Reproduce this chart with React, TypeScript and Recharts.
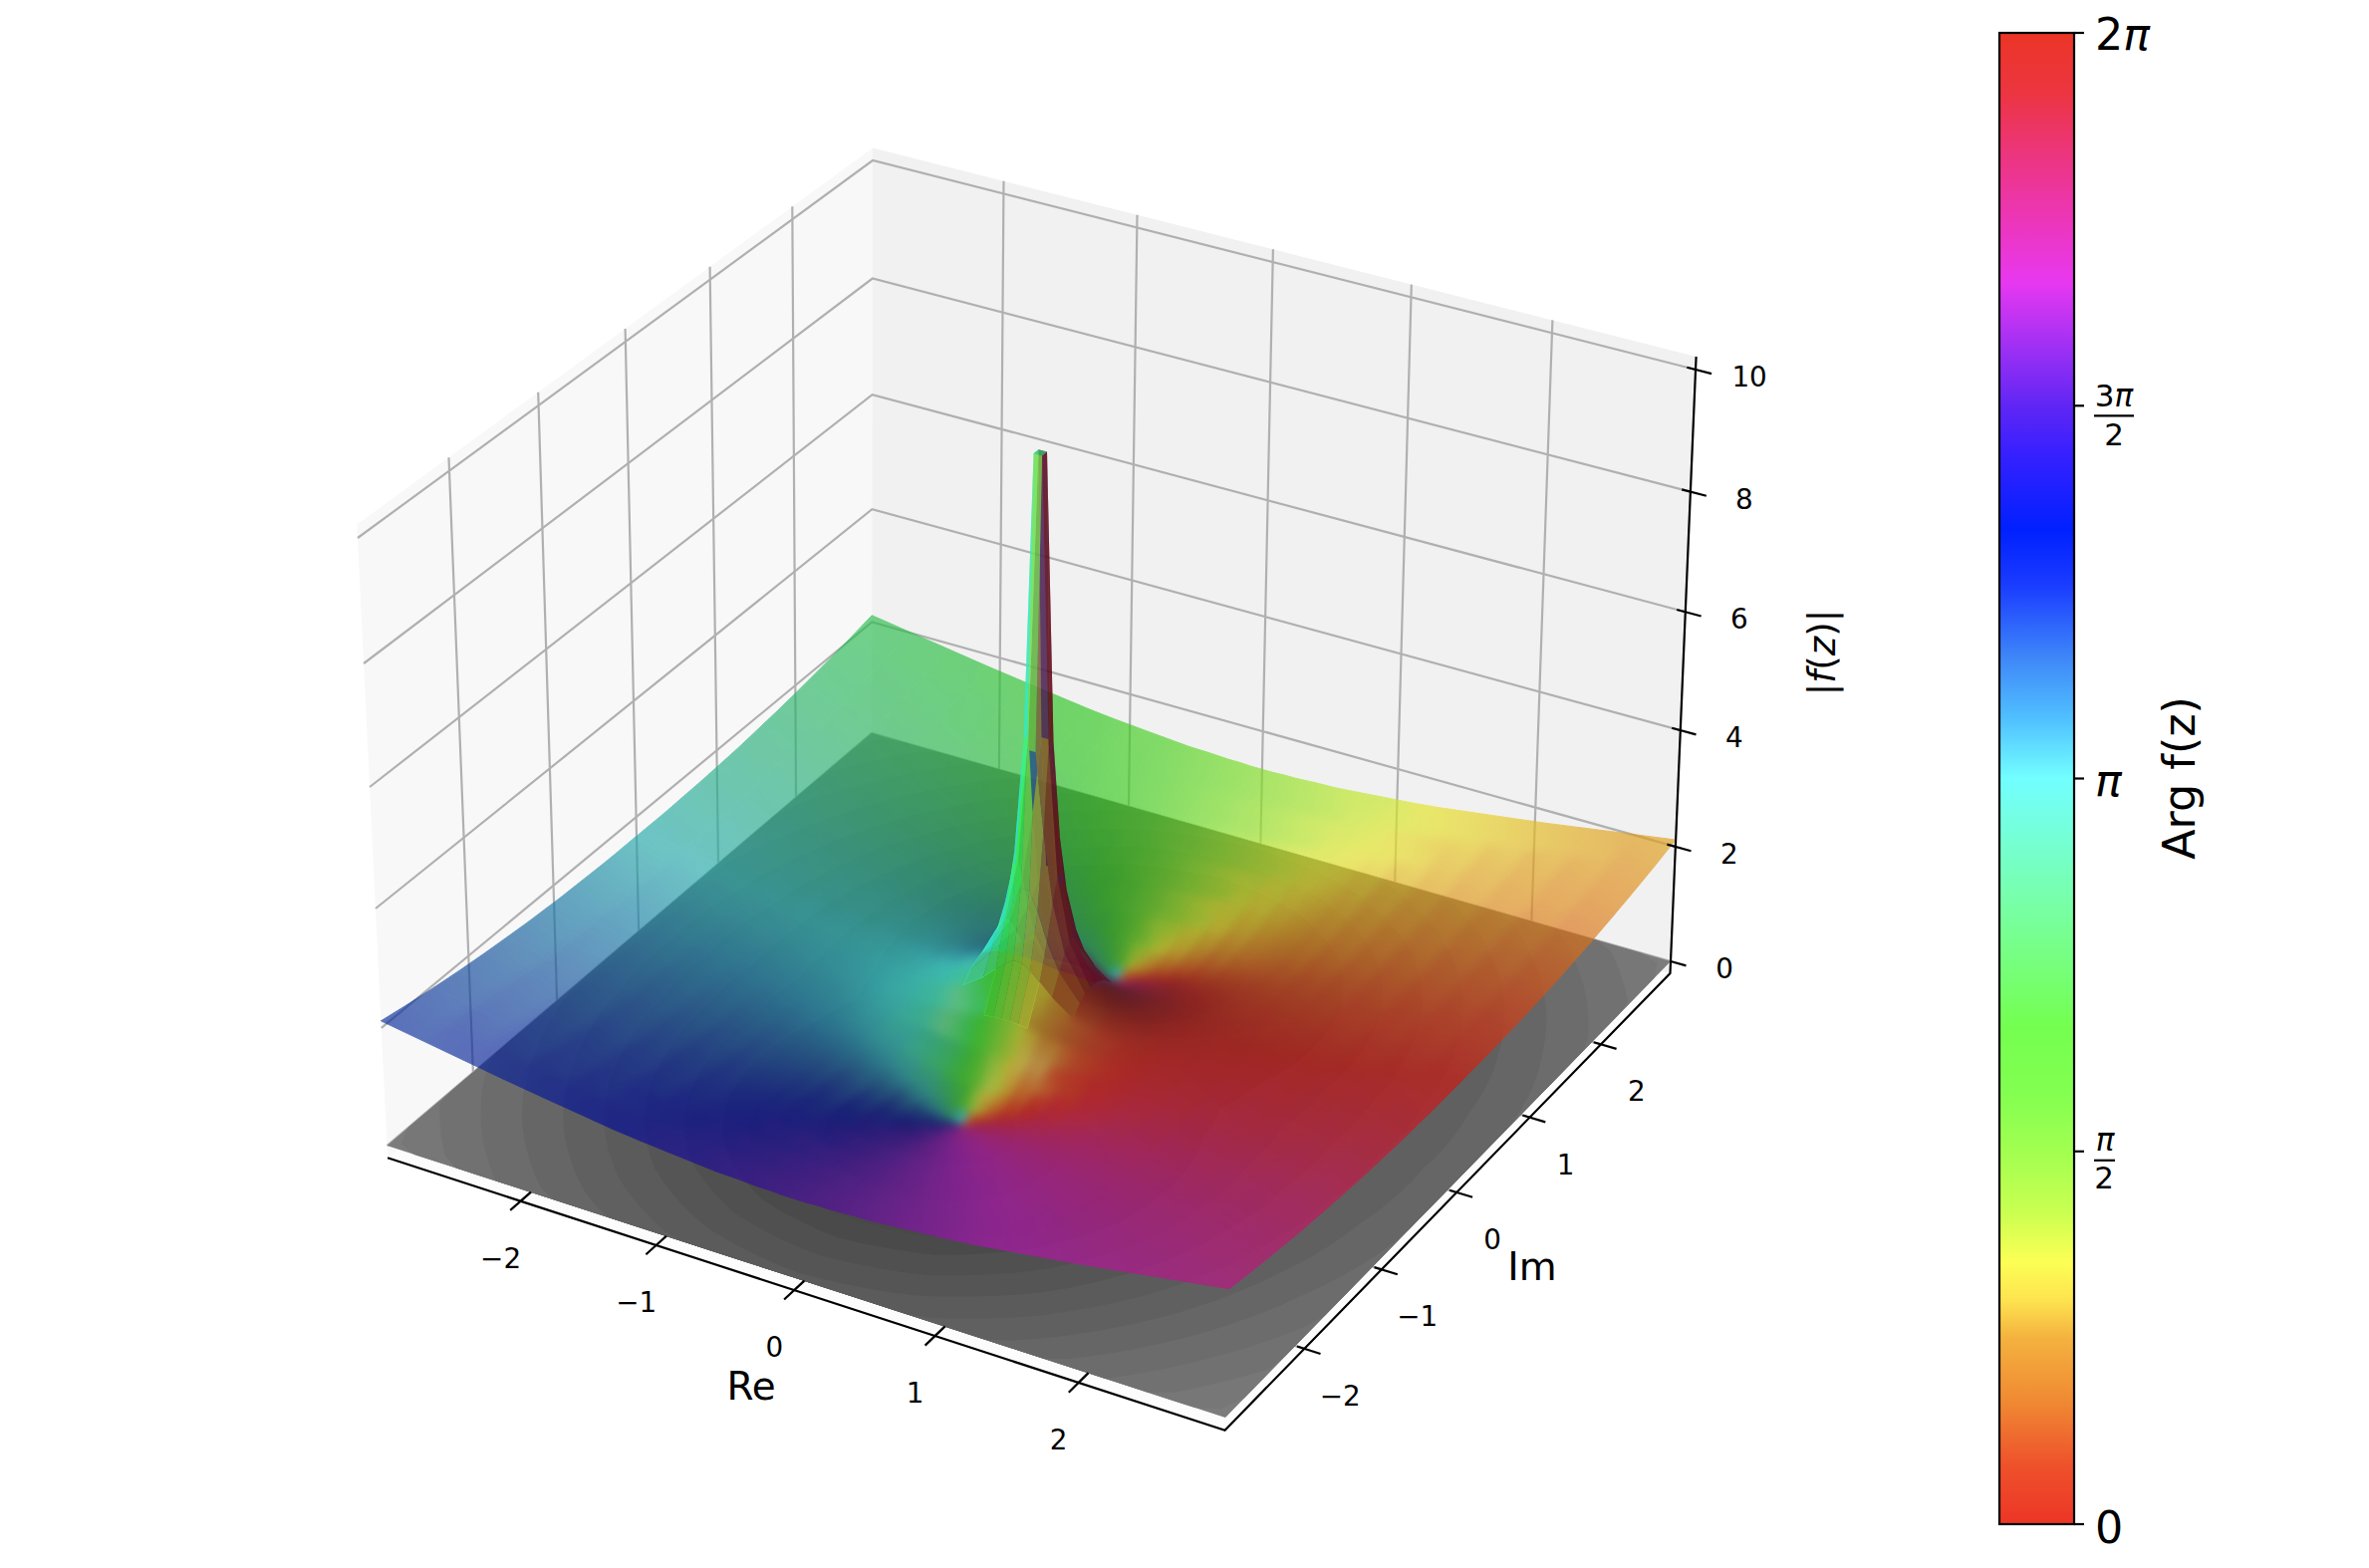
import { ScatterChart, Scatter, XAxis, YAxis } from "recharts"

const WIDTH = 2378
const HEIGHT = 1574

// Grid nodes of one quadrant (the surface in the picture mirrors across both axes)
const gridNodes = [0.03, 0.09, 0.16, 0.25, 0.4, 0.55, 0.75, 0.9, 1, 1.1, 1.3, 1.55, 1.8, 2.1, 2.4, 2.7, 3]

// |f(z)| estimates, one row per Im node, one column per Re node (fit to the picture, rounded, top clipped at 10)
const heightRows = [
  [10, 5.3, 3.15, 2.11, 1.44, 1.18, 1.04, 1, 1, 1, 1.04, 1.1, 1.18, 1.29, 1.41, 1.54, 1.67],
  [5.23, 3.93, 2.78, 1.99, 1.41, 1.16, 1.03, 1, 1, 1, 1.03, 1.1, 1.18, 1.29, 1.41, 1.54, 1.67],
  [2.99, 2.68, 2.21, 1.75, 1.33, 1.12, 1.01, 0.99, 0.99, 1, 1.03, 1.1, 1.18, 1.29, 1.41, 1.54, 1.67],
  [1.87, 1.78, 1.63, 1.43, 1.18, 1.05, 0.98, 0.97, 0.97, 0.98, 1.02, 1.09, 1.18, 1.29, 1.41, 1.54, 1.67],
  [1.05, 1.04, 1.02, 0.98, 0.93, 0.9, 0.9, 0.91, 0.93, 0.95, 1, 1.08, 1.17, 1.29, 1.41, 1.54, 1.67],
  [0.64, 0.64, 0.65, 0.67, 0.71, 0.75, 0.81, 0.86, 0.89, 0.92, 0.99, 1.08, 1.17, 1.29, 1.42, 1.55, 1.68],
  [0.29, 0.31, 0.34, 0.4, 0.5, 0.6, 0.71, 0.78, 0.83, 0.88, 0.96, 1.07, 1.17, 1.3, 1.43, 1.56, 1.69],
  [0.11, 0.14, 0.2, 0.28, 0.41, 0.52, 0.66, 0.75, 0.8, 0.85, 0.95, 1.06, 1.17, 1.3, 1.43, 1.57, 1.7],
  [0.03, 0.09, 0.16, 0.24, 0.38, 0.5, 0.64, 0.73, 0.79, 0.84, 0.95, 1.06, 1.18, 1.31, 1.44, 1.58, 1.71],
  [0.1, 0.13, 0.18, 0.25, 0.38, 0.49, 0.63, 0.73, 0.79, 0.84, 0.95, 1.07, 1.18, 1.32, 1.45, 1.59, 1.72],
  [0.27, 0.28, 0.3, 0.34, 0.43, 0.52, 0.65, 0.74, 0.8, 0.85, 0.96, 1.08, 1.2, 1.34, 1.47, 1.61, 1.74],
  [0.45, 0.46, 0.47, 0.49, 0.55, 0.62, 0.72, 0.8, 0.85, 0.9, 1, 1.12, 1.24, 1.37, 1.51, 1.64, 1.78],
  [0.62, 0.63, 0.63, 0.65, 0.69, 0.74, 0.82, 0.88, 0.92, 0.97, 1.06, 1.18, 1.29, 1.42, 1.55, 1.69, 1.82],
  [0.81, 0.81, 0.82, 0.83, 0.86, 0.89, 0.95, 1, 1.04, 1.08, 1.16, 1.26, 1.37, 1.49, 1.62, 1.75, 1.88],
  [0.99, 0.99, 1, 1, 1.02, 1.05, 1.1, 1.14, 1.17, 1.21, 1.27, 1.37, 1.46, 1.58, 1.7, 1.83, 1.95],
  [1.17, 1.17, 1.17, 1.17, 1.19, 1.21, 1.25, 1.29, 1.31, 1.34, 1.4, 1.48, 1.57, 1.68, 1.8, 1.91, 2.03],
  [1.33, 1.33, 1.34, 1.34, 1.36, 1.37, 1.41, 1.44, 1.46, 1.48, 1.53, 1.61, 1.69, 1.79, 1.9, 2.01, 2.12],
]

// Arg f(z) estimates in degrees, same layout
const argRows = [
  [-45, -18, -10, -6, -3, -2, -1, 0, 0, 0, 0, 0, 0, 0, 0, 0, 0],
  [-71, -44, -28, -17, -9, -5, -2, -1, 0, 0, 1, 1, 2, 2, 2, 1, 1],
  [-79, -59, -42, -28, -15, -8, -3, -1, 0, 1, 2, 2, 3, 3, 3, 3, 2],
  [-82, -68, -53, -38, -22, -12, -4, -1, 0, 2, 3, 4, 4, 4, 4, 4, 4],
  [-84, -73, -60, -45, -27, -15, -5, 0, 2, 3, 5, 6, 7, 7, 7, 6, 6],
  [-84, -73, -60, -46, -27, -14, -3, 2, 4, 6, 8, 9, 10, 10, 9, 9, 8],
  [-82, -66, -51, -35, -17, -6, 3, 7, 9, 11, 12, 14, 14, 13, 13, 12, 11],
  [-72, -45, -27, -14, -2, 5, 11, 13, 14, 15, 17, 17, 17, 16, 15, 15, 14],
  [1, 3, 5, 7, 11, 13, 16, 18, 18, 19, 19, 19, 19, 18, 17, 16, 15],
  [74, 50, 36, 28, 23, 22, 22, 22, 23, 23, 22, 22, 21, 20, 19, 18, 17],
  [85, 75, 65, 55, 44, 38, 34, 32, 31, 30, 29, 27, 26, 24, 22, 21, 20],
  [87, 82, 76, 69, 60, 52, 46, 42, 40, 39, 36, 33, 31, 29, 27, 25, 23],
  [88, 85, 80, 75, 68, 61, 54, 50, 48, 46, 43, 39, 36, 33, 31, 29, 27],
  [89, 86, 83, 79, 73, 68, 62, 58, 55, 53, 49, 45, 42, 39, 36, 33, 31],
  [89, 87, 85, 82, 77, 72, 67, 63, 61, 59, 55, 50, 47, 43, 40, 37, 35],
  [89, 87, 86, 83, 79, 75, 70, 67, 65, 63, 59, 55, 51, 47, 44, 41, 38],
  [89, 88, 86, 84, 81, 77, 73, 70, 68, 66, 62, 58, 55, 51, 47, 44, 42],
]

// Floor contours: radius of each |f| band at these angles, first quadrant
const ringAngles = [0, 15, 30, 45, 60, 75, 90]
const ringRadii = [
  [3.903, 3.938, 4.03, 4.152, 4.271, 4.357, 4.387],
  [3.624, 3.661, 3.76, 3.891, 4.018, 4.109, 4.14],
  [3.341, 3.381, 3.488, 3.63, 3.766, 3.862, 3.897],
  [3.052, 3.096, 3.213, 3.366, 3.513, 3.617, 3.653],
  [2.757, 2.806, 2.936, 3.103, 3.262, 3.373, 3.413],
  [2.452, 2.508, 2.653, 2.838, 3.012, 3.132, 3.175],
  [2.13, 2.196, 2.362, 2.571, 2.762, 2.893, 2.94],
  [1.777, 1.859, 2.059, 2.3, 2.514, 2.658, 2.709],
  [1.325, 1.457, 1.73, 2.02, 2.265, 2.427, 2.483],
]
const ringGrays = [119, 113, 108, 102, 96, 91, 85, 80, 74]
// Dark lobes round the two zeros: centre Im, half width, half height
const lobeCentres = [1.35, 1.2, 1.07]
const lobeWidths = [1.2, 0.76, 0.41]
const lobeHeights = [0.91, 0.68, 0.39]
const lobeGrays = [72, 69, 66]

const reTicks = [-2, -1, 0, 1, 2]
const imTicks = [-2, -1, 0, 1, 2]
const zTicks = [0, 2, 4, 6, 8, 10]
const colorbarOffsets = [0, 0.04, 0.083, 0.125, 0.15, 0.176, 0.21, 0.25, 0.29, 0.333, 0.417, 0.5, 0.54, 0.58, 0.63, 0.667, 0.72, 0.75, 0.79, 0.833, 0.875, 0.917, 0.96, 1]
const colorbarColors = ["#ec3526", "#ee522b", "#f08a33", "#f4b23f", "#fde34f", "#fcff55", "#c8ff50", "#a2ff50", "#82ff50", "#74ff50", "#78ffa8", "#72ffff", "#50c0ff", "#3f88f8", "#1a3cff", "#0020ff", "#3a20ff", "#6026f4", "#a030f4", "#e838f0", "#ec36b8", "#ec3580", "#ec3540", "#ec3526"]

// Projection of the 3D box on to the page, fitted to the corners of the floor and walls
const Z_BOTTOM = -0.21
const Z_TOP = 10.21
const SURFACE_ALPHA = 0.66
function project(re: number, im: number, z: number): [number, number] {
  const u = (re + 3) / 6
  const v = (im + 3) / 6
  const t = z / 10
  const w = -0.05587 * u + 0.08039 * v - 0.04 * t + 1
  const px = -43.9 + 12.2 * u + 9.9 * v - 20.6 * u * v
  const py = -631.6 + 4.3 * u + 3.9 * v
  return [(772.78 * u + 556.84 * v + 388.5 + px * t) / w, (193.5 * u - 354.83 * v + 1150 + py * t) / w]
}
function depth(re: number, im: number, z: number) {
  return -0.05587 * ((re + 3) / 6) + 0.08039 * ((im + 3) / 6) - 0.04 * (z / 10) + 1
}

const mark = (pts: number[][], style: object) => ({ x: pts[0][0], y: pts[0][1], pts, ...style })
const line3d = (corners: number[][], stroke: string, width: number) =>
  mark(corners.map(c => project(c[0], c[1], c[2])), { stroke, width })
const face3d = (corners: number[][], fill: string) =>
  mark(corners.map(c => project(c[0], c[1], c[2])), { fill, opacity: 1 })

const hexRgb = (hex: string) => [1, 3, 5].map(k => parseInt(hex.slice(k, k + 2), 16))
const rgbText = (c: number[]) => `rgb(${c.map(v => Math.round(Math.min(255, v))).join(",")})`

// Surface colour: halfway between the pure hue and the paler colour-bar scale
function scaleColor(deg: number) {
  const wrapped = ((deg % 360) + 360) % 360
  const f = wrapped / 360
  let k = 0
  while (k < colorbarOffsets.length - 2 && colorbarOffsets[k + 1] < f) k++
  const s = (f - colorbarOffsets[k]) / (colorbarOffsets[k + 1] - colorbarOffsets[k])
  const a = hexRgb(colorbarColors[k])
  const b = hexRgb(colorbarColors[k + 1])
  const h = wrapped / 60
  const c = 1 - Math.abs((h % 2) - 1)
  const pure = [[1, c, 0], [c, 1, 0], [0, 1, c], [0, c, 1], [c, 0, 1], [1, 0, c]][Math.floor(h) % 6]
  return a.map((v, i) => (v + (b[i] - v) * s + pure[i] * 255) / 2)
}

// Full grid, mirrored from the quadrant tables
const axisNodes = [...gridNodes.map(v => -v).reverse(), ...gridNodes]
const rowOf = (v: number) => gridNodes.indexOf(Math.abs(v))
function heightAt(re: number, im: number) {
  return heightRows[rowOf(im)][rowOf(re)]
}
function argAt(re: number, im: number) {
  const a = argRows[rowOf(im)][rowOf(re)]
  if (re > 0) return im > 0 ? a : -a
  return im > 0 ? 180 - a : 180 + a
}

const LIGHT = [-0.667, -0.667, 0.333]
const GLOSS = [-0.14, -0.82, 0.55]
const dot = (a: number[], b: number[]) => a[0] * b[0] + a[1] * b[1] + a[2] * b[2]

// Shaded colour for a normal: matplotlib's default light plus the bright spot seen in front of the peak
function lit(base: number[], n: number[]) {
  const factor = 0.3 + 0.35 * (dot(n, LIGHT) + 1)
  const gloss = Math.min(0.8, Math.pow(Math.max(0, dot(n, GLOSS)), 200) * 0.9)
  return base.map((v, i) => v * factor * (1 - gloss) + [255, 245, 150][i] * gloss)
}

function buildSurface() {
  const count = axisNodes.length
  const cornersOf = (i: number, j: number) =>
    [
      [axisNodes[i], axisNodes[j]],
      [axisNodes[i + 1], axisNodes[j]],
      [axisNodes[i + 1], axisNodes[j + 1]],
      [axisNodes[i], axisNodes[j + 1]],
    ].map(c => [c[0], c[1], heightAt(c[0], c[1])])
  const normals: number[][][] = []
  for (let i = 0; i < count - 1; i++) {
    normals[i] = []
    for (let j = 0; j < count - 1; j++) {
      const c = cornersOf(i, j)
      const a = [0, 1, 2].map(k => c[2][k] - c[0][k])
      const b = [0, 1, 2].map(k => c[3][k] - c[1][k])
      const n = [a[1] * b[2] - a[2] * b[1], a[2] * b[0] - a[0] * b[2], a[0] * b[1] - a[1] * b[0]]
      const len = Math.hypot(n[0], n[1], n[2]) * (n[2] < 0 ? -1 : 1)
      normals[i][j] = n.map(v => v / len)
    }
  }
  const nodeColor = (i: number, j: number) => {
    const around = [[i - 1, j - 1], [i, j - 1], [i - 1, j], [i, j]].filter(p => normals[p[0]] && normals[p[0]][p[1]])
    const sum = around.reduce((s, p) => s.map((v, k) => v + normals[p[0]][p[1]][k]), [0, 0, 0])
    const len = Math.hypot(sum[0], sum[1], sum[2])
    return lit(scaleColor(argAt(axisNodes[i], axisNodes[j])), sum.map(v => v / len))
  }
  const cells = []
  const peak = []
  for (let i = 0; i < count - 1; i++) {
    for (let j = 0; j < count - 1; j++) {
      const corners = cornersOf(i, j)
      const pts = corners.map(c => project(c[0], c[1], c[2]))
      const order = corners.reduce((s, c) => s + depth(c[0], c[1], c[2]), 0) / 4
      const args = corners.map(c => (argAt(c[0], c[1]) * Math.PI) / 180)
      const mx = args.reduce((s, v) => s + Math.cos(v), 0) / 4
      const my = args.reduce((s, v) => s + Math.sin(v), 0) / 4
      const spread = Math.hypot(mx, my)
      const flatHue = spread < 0.6 ? argAt(corners[0][0], corners[0][1]) : (Math.atan2(my, mx) * 180) / Math.PI
      // The cells round the peak stay sharp and go in a layer of their own
      const nearPole = Math.max(...corners.map(c => Math.hypot(c[0], c[1]))) < 0.6
      if (nearPole && Math.max(...corners.map(c => c[2])) > 1.7) {
        peak.push({ ...mark(pts, { fill: rgbText(lit(scaleColor(flatHue), normals[i][j])), opacity: SURFACE_ALPHA }), order })
        continue
      }
      if (spread < 0.93) {
        cells.push({ ...mark(pts, { fill: rgbText(lit(scaleColor(flatHue), normals[i][j])), opacity: 1, sealed: true }), order })
        continue
      }
      // Smooth the larger cells with a gradient across the direction that changes most
      const c00 = nodeColor(i, j)
      const c10 = nodeColor(i + 1, j)
      const c11 = nodeColor(i + 1, j + 1)
      const c01 = nodeColor(i, j + 1)
      const mean = (a: number[], b: number[]) => a.map((v, k) => (v + b[k]) / 2)
      const mid = (a: number[], b: number[]) => [(a[0] + b[0]) / 2, (a[1] + b[1]) / 2]
      const gap = (a: number[], b: number[]) => Math.hypot(a[0] - b[0], a[1] - b[1], a[2] - b[2])
      const along = gap(mean(c00, c01), mean(c10, c11)) >= gap(mean(c00, c10), mean(c01, c11))
      const from = along ? mid(pts[0], pts[3]) : mid(pts[0], pts[1])
      const to = along ? mid(pts[1], pts[2]) : mid(pts[3], pts[2])
      cells.push({
        ...mark(pts, { fill: "gradient", opacity: 1, sealed: true }),
        order,
        grad: {
          id: `cell-${i}-${j}`,
          from,
          to,
          start: rgbText(along ? mean(c00, c01) : mean(c00, c10)),
          end: rgbText(along ? mean(c10, c11) : mean(c01, c11)),
        },
      })
    }
  }
  const byDepth = (p: { order: number }, q: { order: number }) => q.order - p.order
  return { cells: cells.sort(byDepth), peak: peak.sort(byDepth) }
}

function ringRadiusAt(radii: number[], deg: number) {
  const folded = Math.abs(((deg + 90) % 180) - 90)
  const k = Math.min(ringAngles.length - 2, Math.floor(folded / 15))
  const s = (folded - ringAngles[k]) / 15
  return radii[k] + (radii[k + 1] - radii[k]) * s
}

function buildFloor() {
  const clamp = (v: number) => Math.max(-3, Math.min(3, v))
  const floor = [face3d([[-3, -3, 0], [3, -3, 0], [3, 3, 0], [-3, 3, 0]], "rgb(124,124,124)")]
  ringRadii.forEach((radii, r) => {
    const pts = []
    for (let d = 0; d < 360; d += 3) {
      const ang = (d * Math.PI) / 180
      const rad = ringRadiusAt(radii, d)
      pts.push([clamp(rad * Math.cos(ang)), clamp(rad * Math.sin(ang)), 0])
    }
    floor.push(face3d(pts, `rgb(${ringGrays[r]},${ringGrays[r]},${ringGrays[r]})`))
  })
  lobeCentres.forEach((c, l) => {
    ;[1, -1].forEach(sign => {
      const pts = []
      for (let d = 0; d < 360; d += 6) {
        const ang = (d * Math.PI) / 180
        pts.push([lobeWidths[l] * Math.cos(ang), sign * c + lobeHeights[l] * Math.sin(ang), 0])
      }
      floor.push(face3d(pts, `rgb(${lobeGrays[l]},${lobeGrays[l]},${lobeGrays[l]})`))
    })
  })
  return floor
}

const GRID = "#b0b0b0"
const panes = [
  face3d([[-3, -3, Z_BOTTOM], [3, -3, Z_BOTTOM], [3, 3, Z_BOTTOM], [-3, 3, Z_BOTTOM]], "#fcfcfc"),
  face3d([[-3, -3, Z_BOTTOM], [-3, 3, Z_BOTTOM], [-3, 3, Z_TOP], [-3, -3, Z_TOP]], "#f8f8f8"),
  face3d([[-3, 3, Z_BOTTOM], [3, 3, Z_BOTTOM], [3, 3, Z_TOP], [-3, 3, Z_TOP]], "#f1f1f1"),
]
const gridLines = [
  ...reTicks.map(v => line3d([[v, -3, Z_BOTTOM], [v, 3, Z_BOTTOM], [v, 3, Z_TOP]], GRID, 2.2)),
  ...imTicks.map(v => line3d([[3, v, Z_BOTTOM], [-3, v, Z_BOTTOM], [-3, v, Z_TOP]], GRID, 2.2)),
  ...zTicks.map(v => line3d([[-3, -3, v], [-3, 3, v], [3, 3, v]], GRID, 2.2)),
]
const axisLines = [
  line3d([[-3, -3, Z_BOTTOM], [3, -3, Z_BOTTOM], [3, 3, Z_BOTTOM], [3, 3, Z_TOP]], "#000", 2.2),
  ...reTicks.map(v => line3d([[v, -3 + 0.12, Z_BOTTOM], [v, -3 - 0.12, Z_BOTTOM]], "#000", 2.2)),
  ...imTicks.map(v => line3d([[3 - 0.05, v, Z_BOTTOM], [3 + 0.11, v, Z_BOTTOM]], "#000", 2.2)),
  ...zTicks.map(v => line3d([[v === 0 ? 3 : 3 - 0.06, 3, v], [3 + 0.11, 3, v]], "#000", 2.2)),
]

const label = (x: number, y: number, parts: (string | [string])[], size: number, extra: object = {}) => ({ x, y, parts, size, ...extra })
const offsetLabel = (p: number[], dx: number, dy: number, text: string) => label(p[0] + dx, p[1] + dy, [text], 27.8)
const axisTexts = [
  ...reTicks.map(v => offsetLabel(project(v, -3, Z_BOTTOM), -20, 67, v < 0 ? `\u2212${-v}` : `${v}`)),
  ...imTicks.map(v => offsetLabel(project(3, v, Z_BOTTOM), 36, 57, v < 0 ? `\u2212${-v}` : `${v}`)),
  ...zTicks.map(v => offsetLabel(project(3, 3, v), 54, 17, `${v}`)),
  label(754, 1405, ["Re"], 38.9),
  label(1538, 1285, ["Im"], 38.9),
  label(1842, 655, ["|", ["f"], "(", ["z"], ")|"], 37, { rotate: true }),
]

const CB_LEFT = 2007
const CB_RIGHT = 2082
const CB_TOP = 33
const CB_BOTTOM = 1530
const cbY = (fraction: number) => CB_BOTTOM - fraction * (CB_BOTTOM - CB_TOP)
const cbTickFractions = [0, 0.25, 0.5, 0.75, 1]
const colorbarFrame = [{ x: CB_LEFT, y: CB_TOP, gradient: true }]
const colorbarLines = [
  ...cbTickFractions.map(f => mark([[CB_RIGHT, cbY(f)], [2092, cbY(f)]], { stroke: "#000", width: 2.2 })),
  mark([[2102, cbY(0.25) + 9], [2123, cbY(0.25) + 9]], { stroke: "#000", width: 2.2 }),
  mark([[2102, cbY(0.75) + 10], [2142, cbY(0.75) + 10]], { stroke: "#000", width: 2.2 }),
]
const colorbarTexts = [
  label(2103, cbY(0) + 19, ["0"], 44.4, { anchor: "start" }),
  label(2103, cbY(0.5) + 17, [["\u03c0"]], 44.4, { anchor: "start" }),
  label(2103, cbY(1) + 17, ["2", ["\u03c0"]], 44.4, { anchor: "start" }),
  label(2113, cbY(0.25) - 1, [["\u03c0"]], 31, {}),
  label(2112, cbY(0.25) + 37, ["2"], 31, {}),
  label(2122, cbY(0.75) + 1, ["3", ["\u03c0"]], 31, {}),
  label(2122, cbY(0.75) + 40, ["2"], 31, {}),
  label(2203, 781, ["Arg f(z)"], 44.4, { rotate: true }),
]

function PolyShape(props: any) {
  const { cx, cy, payload: p } = props
  const dx = cx - p.x
  const dy = cy - p.y
  const points = p.pts.map((c: number[]) => `${(c[0] + dx).toFixed(1)},${(c[1] + dy).toFixed(1)}`).join(" ")
  if (p.grad) {
    const g = p.grad
    const paint = `url(#${g.id})`
    return (
      <g>
        <defs>
          <linearGradient id={g.id} gradientUnits="userSpaceOnUse" x1={g.from[0] + dx} y1={g.from[1] + dy} x2={g.to[0] + dx} y2={g.to[1] + dy}>
            <stop offset={0} stopColor={g.start} />
            <stop offset={1} stopColor={g.end} />
          </linearGradient>
        </defs>
        <polygon points={points} fill={paint} stroke={paint} strokeWidth={1} />
      </g>
    )
  }
  if (p.sealed) return <polygon points={points} fill={p.fill} stroke={p.fill} strokeWidth={1} />
  if (p.fill) return <polygon points={points} fill={p.fill} fillOpacity={p.opacity} stroke="none" />
  return <polyline points={points} fill="none" stroke={p.stroke} strokeWidth={p.width} />
}

function TextShape(props: any) {
  const { cx, cy, payload: p } = props
  return (
    <text
      x={cx}
      y={cy}
      fontFamily="DejaVu Sans"
      fontSize={p.size}
      fill="#000"
      textAnchor={p.anchor || "middle"}
      transform={p.rotate ? `rotate(-90 ${cx} ${cy})` : undefined}
    >
      {p.parts.map((part: string | string[], i: number) =>
        typeof part === "string" ? <tspan key={i}>{part}</tspan> : <tspan key={i} fontStyle="italic">{part[0]}</tspan>
      )}
    </text>
  )
}

function ColorbarShape(props: any) {
  const { cx, cy } = props
  return (
    <g>
      <defs>
        <linearGradient id="argScale" x1="0" y1="1" x2="0" y2="0">
          {colorbarOffsets.map((o, i) => <stop key={i} offset={o} stopColor={colorbarColors[i]} />)}
        </linearGradient>
      </defs>
      <rect x={cx} y={cy} width={CB_RIGHT - CB_LEFT} height={CB_BOTTOM - CB_TOP} fill="url(#argScale)" stroke="#000" strokeWidth={2.2} />
    </g>
  )
}

export default function App() {
  const surface = buildSurface()
  return (
    <div style={{ position: "absolute", left: 0, top: 0, width: WIDTH, height: HEIGHT, background: "#fff" }}>
      <style>{`.surface-soft { filter: url(#surfaceSoft); opacity: ${SURFACE_ALPHA}; }`}</style>
      <svg width={0} height={0} style={{ position: "absolute" }}>
        <filter id="surfaceSoft" filterUnits="userSpaceOnUse" x={0} y={0} width={WIDTH} height={HEIGHT} colorInterpolationFilters="sRGB">
          <feGaussianBlur in="SourceGraphic" stdDeviation={5} />
          <feComponentTransfer>
            <feFuncA type="linear" slope={200} />
          </feComponentTransfer>
          <feComposite in2="SourceAlpha" operator="in" />
        </filter>
      </svg>
      <ScatterChart width={WIDTH} height={HEIGHT} margin={{ top: 0, right: 0, bottom: 0, left: 0 }}>
        <XAxis type="number" dataKey="x" domain={[0, WIDTH]} hide allowDataOverflow />
        <YAxis type="number" dataKey="y" domain={[0, HEIGHT]} reversed hide allowDataOverflow />
        <Scatter data={colorbarFrame} shape={ColorbarShape} isAnimationActive={false} />
        <Scatter data={panes} shape={PolyShape} isAnimationActive={false} />
        <Scatter data={gridLines} shape={PolyShape} isAnimationActive={false} />
        <Scatter data={buildFloor()} shape={PolyShape} isAnimationActive={false} />
        <Scatter data={surface.cells} shape={PolyShape} className="surface-soft" isAnimationActive={false} />
        <Scatter data={surface.peak} shape={PolyShape} isAnimationActive={false} />
        <Scatter data={axisLines} shape={PolyShape} isAnimationActive={false} />
        <Scatter data={colorbarLines} shape={PolyShape} isAnimationActive={false} />
        <Scatter data={axisTexts} shape={TextShape} isAnimationActive={false} />
        <Scatter data={colorbarTexts} shape={TextShape} isAnimationActive={false} />
      </ScatterChart>
    </div>
  )
}
